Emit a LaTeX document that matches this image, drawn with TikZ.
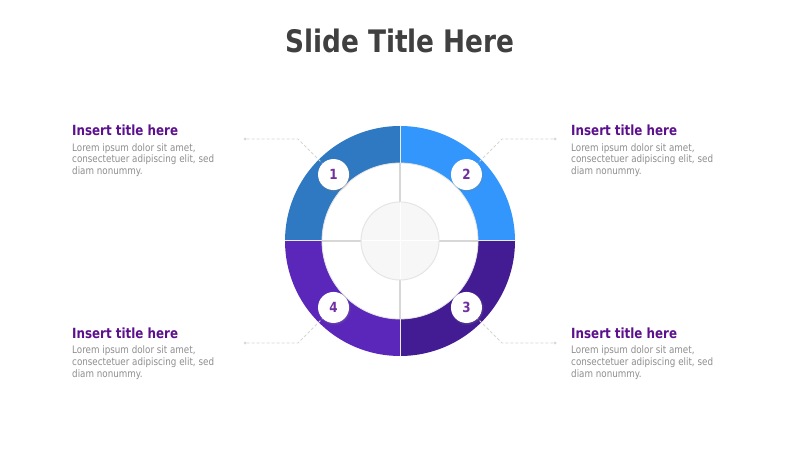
\documentclass[tikz,border=0pt]{standalone}
\usepackage{fontspec}
\setmainfont{DejaVu Sans}
\newfontfamily\tfont[FakeStretch=0.85]{DejaVu Sans}
\usetikzlibrary{shadows}
\definecolor{segA}{RGB}{47,120,194}
\definecolor{segB}{RGB}{50,150,252}
\definecolor{segC}{RGB}{67,28,148}
\definecolor{segD}{RGB}{91,39,187}
\definecolor{titlegray}{RGB}{64,64,64}
\definecolor{headpurple}{RGB}{92,16,140}
\definecolor{bodygray}{RGB}{142,142,142}
\definecolor{numpurple}{RGB}{112,48,160}
\definecolor{dashgray}{RGB}{215,215,215}
\definecolor{crossgray}{RGB}{215,215,215}
\tikzset{
  slidetitle/.style={font=\tfont\bfseries\fontsize{31}{36}\selectfont, text=titlegray, inner sep=0pt, anchor=base},
  head/.style={font=\tfont\bfseries\fontsize{14}{16}\selectfont, text=headpurple, inner sep=0pt, anchor=base west},
  body/.style={font=\tfont\fontsize{10.3}{11.7}\selectfont, text=bodygray, inner sep=0pt, anchor=north west, align=left},
  numbadge/.style={circle, fill=white, minimum size=31pt, inner sep=0pt, text=numpurple,
    font=\tfont\bfseries\fontsize{14}{16}\selectfont,
    circular drop shadow={shadow xshift=0.4pt, shadow yshift=-0.6pt, shadow scale=1.1, opacity=0.3}},
  leader/.style={draw=dashgray, line width=0.8pt, dash pattern=on 3pt off 2pt},
  leaderdot/.style={circle, fill=dashgray, minimum size=3pt, inner sep=0pt},
}
\begin{document}
\begin{tikzpicture}[x=1pt,y=1pt]
\useasboundingbox (0,0) rectangle (800,450);
\fill[white] (0,0) rectangle (800,450);

\node[slidetitle] (title) at (400,397) {Slide Title Here};

\begin{scope}[shift={(400,209)}]
  % ring segments
  \fill[segA] (180:115) arc[start angle=180,end angle=90,radius=115] -- (90:78) arc[start angle=90,end angle=180,radius=78] -- cycle;
  \fill[segB] (90:115) arc[start angle=90,end angle=0,radius=115] -- (0:78) arc[start angle=0,end angle=90,radius=78] -- cycle;
  \fill[segC] (0:115) arc[start angle=0,end angle=-90,radius=115] -- (-90:78) arc[start angle=-90,end angle=0,radius=78] -- cycle;
  \fill[segD] (-90:115) arc[start angle=-90,end angle=-180,radius=115] -- (-180:78) arc[start angle=-180,end angle=-90,radius=78] -- cycle;
  % inner white disc
  \fill[white] (0,0) circle[radius=78];
  \draw[gray!25, line width=0.8pt] (0,0) circle[radius=78];
  % cross lines
  \draw[crossgray, line width=1.4pt] (0,39) -- (0,78) (0,-39) -- (0,-78) (39,0) -- (78,0) (-39,0) -- (-78,0);
  \draw[white!85!gray, line width=1pt] (0,78) -- (0,115) (0,-78) -- (0,-115) (78,0) -- (115,0) (-78,0) -- (-115,0);
  % hub
  \fill[gray!6] (0,0) circle[radius=39];
  \draw[gray!20, line width=1pt] (0,0) circle[radius=39];
  \draw[white, line width=1pt] (0,-38.5) -- (0,38.5) (-38.5,0) -- (38.5,0);
  % badges
  \node[numbadge] (n1) at (135:94) {1};
  \node[numbadge] (n2) at (45:94) {2};
  \node[numbadge] (n3) at (-45:94) {3};
  \node[numbadge] (n4) at (-135:94) {4};
\end{scope}

% leaders
\node[leaderdot] (d1) at (245,311) {};
\node[leaderdot] (d2) at (555,311) {};
\node[leaderdot] (d3) at (555,107) {};
\node[leaderdot] (d4) at (245,107) {};
\coordinate (b1) at (298,311);
\coordinate (b2) at (502,311);
\coordinate (b3) at (502,107);
\coordinate (b4) at (298,107);
\draw[leader] (d1) -- (b1) -- (n1);
\draw[leader] (d2) -- (b2) -- (n2);
\draw[leader] (d3) -- (b3) -- (n3);
\draw[leader] (d4) -- (b4) -- (n4);

% text blocks
\node[head] (h1) at (72,314) {Insert title here};
\node[body] (t1) at (72,306.8) {Lorem ipsum dolor sit amet,\\consectetuer adipiscing elit, sed\\diam nonummy.};
\node[head] (h2) at (571,314) {Insert title here};
\node[body] (t2) at (571,306.8) {Lorem ipsum dolor sit amet,\\consectetuer adipiscing elit, sed\\diam nonummy.};
\node[head] (h4) at (72,112) {Insert title here};
\node[body] (t4) at (72,104.3) {Lorem ipsum dolor sit amet,\\consectetuer adipiscing elit, sed\\diam nonummy.};
\node[head] (h3) at (571,112) {Insert title here};
\node[body] (t3) at (571,104.3) {Lorem ipsum dolor sit amet,\\consectetuer adipiscing elit, sed\\diam nonummy.};
\end{tikzpicture}
\end{document}
